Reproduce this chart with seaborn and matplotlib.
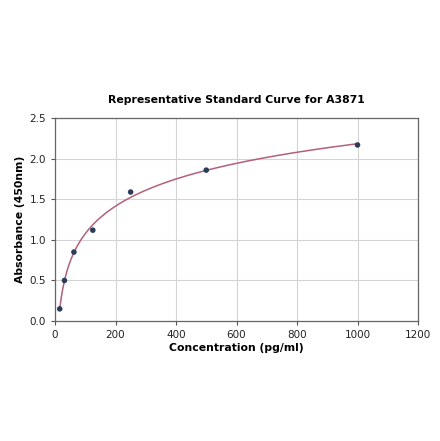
import matplotlib
matplotlib.use('Agg')
import matplotlib.pyplot as plt
import numpy as np
import pandas as pd
import seaborn as sns

# Standard points
concentration = [15.6, 31.25, 62.5, 125, 250, 500, 1000]
absorbance = [0.15, 0.50, 0.85, 1.12, 1.59, 1.86, 2.17]

x_ticks = [0, 200, 400, 600, 800, 1000, 1200]
y_ticks = [0.0, 0.5, 1.0, 1.5, 2.0, 2.5]

df = pd.DataFrame({'conc': concentration, 'od': absorbance})

# Fitted curve (quadratic in log concentration, through the standards)
coef = np.polyfit(np.log(df['conc']), df['od'], 2)
fit_x = np.linspace(df['conc'].min(), df['conc'].max(), 300)
df_fit = pd.DataFrame({'conc': fit_x, 'od': np.polyval(coef, np.log(fit_x))})

sns.set_style('whitegrid')
plt.rcParams['font.family'] = ['DejaVu Sans']
plt.rcParams['text.color'] = 'black'
plt.rcParams['axes.labelcolor'] = 'black'
plt.rcParams['xtick.color'] = '#222222'
plt.rcParams['ytick.color'] = '#222222'

fig = plt.figure(figsize=(4.4, 4.41), dpi=100)
ax = fig.add_axes([0.125, 0.272, 0.825, 0.46])

sns.lineplot(data=df_fit, x='conc', y='od', ax=ax, color='#b5607a', linewidth=1.1)
sns.scatterplot(data=df, x='conc', y='od', ax=ax, color='#2b3d5a', s=16, edgecolor='none', zorder=3)

ax.set_xlim(0, 1200)
ax.set_ylim(0, 2.5)
ax.set_xticks(x_ticks)
ax.set_yticks(y_ticks)
ax.tick_params(labelsize=7.5, length=3, color='#555555', left=True, bottom=True)
ax.grid(True, color='#d4d4d4', linewidth=0.8)
for s in ax.spines.values():
    s.set_color('#666666')
    s.set_linewidth(0.9)

ax.set_title('Representative Standard Curve for A3871', fontsize=7.8, fontweight='bold', pad=11)
ax.set_xlabel('Concentration (pg/ml)', fontsize=7.8, fontweight='bold', labelpad=2)
ax.set_ylabel('Absorbance (450nm)', fontsize=7.8, fontweight='bold', labelpad=3)

fig.savefig('out.png', dpi=100)
